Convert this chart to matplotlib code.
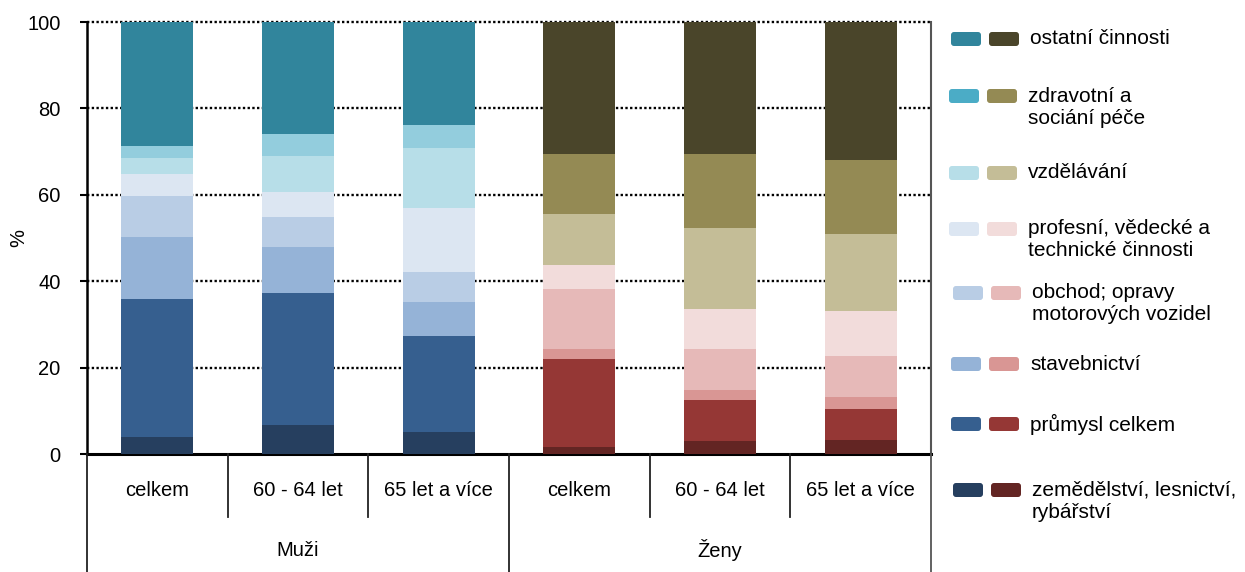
import matplotlib
matplotlib.use("Agg")
import matplotlib.pyplot as plt
from matplotlib.patches import FancyBboxPatch
import numpy as np

plt.rcParams['font.family'] = ['Liberation Sans', 'DejaVu Sans']

# ---- data ----
categories = ["celkem", "60 - 64 let", "65 let a více", "celkem", "60 - 64 let", "65 let a více"]
groups = ["Muži", "Ženy"]
sectors = ["zemědělství, lesnictví,\nrybářství", "průmysl celkem", "stavebnictví",
           "obchod; opravy\nmotorových vozidel", "profesní, vědecké a\ntechnické činnosti",
           "vzdělávání", "zdravotní a\nsociání péče", "ostatní činnosti"]

# shares (%) per sector, bottom to top; columns = categories
zemedelstvi = [3.9, 6.6, 5.0, 1.7, 2.9, 3.3]
prumysl     = [32.0, 30.6, 22.2, 20.4, 9.5, 7.2]
stavebnictvi = [14.3, 10.7, 8.1, 2.3, 2.3, 2.8]
obchod      = [9.5, 6.9, 6.9, 13.7, 9.7, 9.3]
profesni    = [5.1, 5.8, 14.7, 5.6, 9.1, 10.4]
vzdelavani  = [3.7, 8.4, 13.9, 11.8, 18.8, 17.9]
zdravotni   = [2.8, 5.1, 5.3, 13.9, 17.1, 17.1]
ostatni     = [28.7, 25.9, 23.9, 30.6, 30.6, 32.0]
values = [zemedelstvi, prumysl, stavebnictvi, obchod, profesni, vzdelavani, zdravotni, ostatni]

men_colors = ["#263F5F", "#365F8F", "#95B3D7", "#B9CDE5", "#DCE6F2", "#B7DEE8", "#93CDDD", "#31859C"]
men_legend_colors = ["#263F5F", "#365F8F", "#95B3D7", "#B9CDE5", "#DCE6F2", "#B7DEE8", "#4BACC6", "#31859C"]
women_colors = ["#632523", "#953735", "#D99694", "#E6B9B8", "#F2DCDB", "#C4BD97", "#948A54", "#4A452A"]
yticks = [0, 20, 40, 60, 80, 100]

FS = 14.5

# ---- figure ----
W, H = 1245, 572
fig = plt.figure(figsize=(W / 100, H / 100), dpi=100)
L, R, T, B = 87, 931, 22, 454
ax = fig.add_axes([L / W, (H - B) / H, (R - L) / W, (B - T) / H])

x = np.arange(len(categories))
bottom = np.zeros(len(categories))
for i, vals in enumerate(values):
    cols = [men_colors[i]] * 3 + [women_colors[i]] * 3
    ax.bar(x, vals, bottom=bottom, width=0.51, color=cols, zorder=3, linewidth=0)
    bottom += np.array(vals)

ax.set_xlim(-0.5, len(categories) - 0.5)
ax.set_ylim(0, 100)
ax.set_yticks(yticks)
ax.set_yticklabels([str(v) for v in yticks], fontsize=FS)
ax.tick_params(axis='y', direction='out', length=5, width=1.5, pad=14, color='black')
ax.set_xticks([])
for yv in yticks[1:]:
    ax.axhline(yv, color='black', linestyle=(0, (1, 1)), linewidth=1.7, zorder=1, clip_on=False)

ax.spines['top'].set_visible(False)
ax.spines['right'].set_color('#555555')
ax.spines['right'].set_linewidth(1.5)
ax.spines['left'].set_linewidth(1.8)
ax.spines['bottom'].set_linewidth(2.2)
ax.set_ylabel("%", fontsize=FS)
ax.yaxis.set_label_coords((28 - L) / (R - L), 0.5)

# multi-level x axis
trans = ax.get_xaxis_transform()
ph = B - T
inner = -(517 - B) / ph
outer = -(H - B) / ph
for b in np.arange(-0.5, len(categories), 1.0):
    is_group = abs((b + 0.5) % 3) < 1e-9
    ax.plot([b, b], [0, outer if is_group else inner], transform=trans,
            color='#222222' if b < len(categories) - 1 else '#555555',
            linewidth=1.3, clip_on=False, zorder=5)
for xi, lab in zip(x, categories):
    ax.text(xi, -(490 - B) / ph, lab, transform=trans, ha='center', va='center', fontsize=FS)
for gi, g in enumerate(groups):
    ax.text(gi * 3 + 1, -(550 - B) / ph, g, transform=trans, ha='center', va='center', fontsize=FS)

# legend (manual, pixel coordinates)
lax = fig.add_axes([0, 0, 1, 1])
lax.set_xlim(0, W)
lax.set_ylim(H, 0)
lax.axis('off')
leg_y = [490, 424, 364, 293, 229, 173, 96, 39]
leg_x = [953, 951, 951, 953, 949, 949, 949, 951]
for i, lab in enumerate(sectors):
    py = leg_y[i]
    px = leg_x[i]
    for j, c in enumerate([men_legend_colors[i], women_colors[i]]):
        lax.add_patch(FancyBboxPatch((px + j * 38 + 2, py - 5), 26, 10,
                                     boxstyle="round,pad=2,rounding_size=3",
                                     facecolor=c, edgecolor='none'))
    for k, line in enumerate(lab.split("\n")):
        lax.text(px + 79, py + k * 22, line, ha='left', va='center', fontsize=15)

fig.savefig("out.png", dpi=100)
